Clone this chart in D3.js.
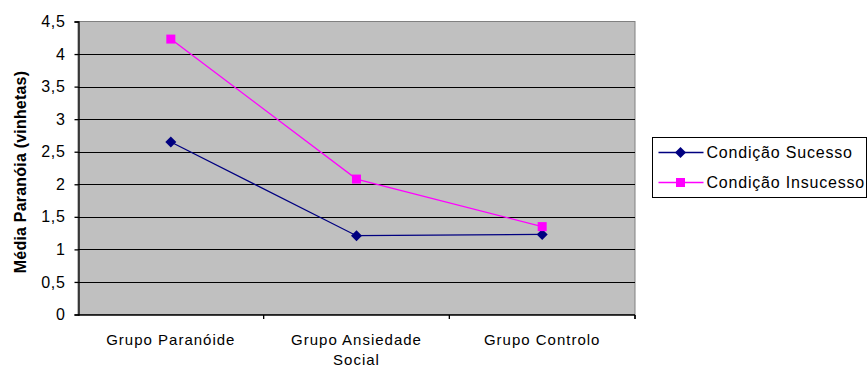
<!DOCTYPE html>
<html>
<head>
<meta charset="utf-8">
<script src="https://cdn.jsdelivr.net/npm/d3@7"></script>
<style>
  body { margin: 0; background: #fff; }
  text { font-family: "Liberation Sans", Arial, sans-serif; }
</style>
</head>
<body>
<div id="chart"></div>
<script>
// --- data ---
var categories = [["Grupo Paranóide"], ["Grupo Ansiedade", "Social"], ["Grupo Controlo"]];
var catKeys = ["Grupo Paranóide", "Grupo Ansiedade Social", "Grupo Controlo"];
var sucesso = [2.65, 1.21, 1.23];
var insucesso = [4.23, 2.08, 1.35];
var seriesNames = ["Condição Sucesso", "Condição Insucesso"];
var yTicks = [0, 0.5, 1, 1.5, 2, 2.5, 3, 3.5, 4, 4.5];

var W = 868, H = 371;
var pLeft = 78, pRight = 635, pTop = 21.5, pBottom = 314.5;

var svg = d3.select('#chart').append('svg')
    .attr('width', W).attr('height', H);

var x = d3.scaleBand().domain(catKeys).range([pLeft, pRight]);
var y = d3.scaleLinear().domain([0, 4.5]).range([pBottom, pTop]);

// plot background
svg.append('rect')
    .attr('x', pLeft).attr('y', pTop)
    .attr('width', pRight - pLeft).attr('height', pBottom - pTop)
    .attr('fill', '#c0c0c0')
    .attr('stroke', '#808080').attr('stroke-width', 1);

// gridlines
svg.append('g').selectAll('line')
    .data(yTicks.filter(function (d) { return d > 0 && d < 4.5; }))
    .enter().append('line')
    .attr('x1', pLeft).attr('x2', pRight)
    .attr('y1', function (d) { return Math.round(y(d)) + 0.5; })
    .attr('y2', function (d) { return Math.round(y(d)) + 0.5; })
    .attr('stroke', '#000').attr('stroke-width', 1);

// y axis
var yAxis = svg.append('g')
    .attr('transform', 'translate(' + (pLeft + 0.5) + ',0)')
    .call(d3.axisLeft(y).tickValues(yTicks).tickSize(4).tickPadding(9)
        .tickFormat(function (d) { return String(d).replace('.', ','); }));
yAxis.selectAll('path, line').attr('stroke', '#000').attr('stroke-width', 1.3);
yAxis.selectAll('text').attr('font-size', 16).attr('fill', '#000')
    .attr('letter-spacing', 0.7)
    .style('font-family', '"Liberation Sans", Arial, sans-serif');

// x axis
var xAxis = svg.append('g')
    .attr('transform', 'translate(0,' + (pBottom + 0.5) + ')');
xAxis.append('line')
    .attr('x1', pLeft).attr('x2', pRight)
    .attr('stroke', '#000').attr('stroke-width', 1.3);
xAxis.selectAll('.tk')
    .data(catKeys.concat(['end']))
    .enter().append('line')
    .attr('x1', function (d, i) { return i < 3 ? x(d) + x.bandwidth() : pRight; })
    .attr('x2', function (d, i) { return i < 3 ? x(d) + x.bandwidth() : pRight; })
    .attr('y1', 0).attr('y2', 4)
    .attr('stroke', '#000').attr('stroke-width', 1.3);

var labels = xAxis.selectAll('.lbl')
    .data(categories).enter().append('text')
    .attr('text-anchor', 'middle')
    .attr('font-size', 15)
    .attr('letter-spacing', 1)
    .attr('fill', '#000')
    .attr('x', function (d, i) { return x(catKeys[i]) + x.bandwidth() / 2; })
    .attr('y', 30);
labels.selectAll('tspan')
    .data(function (d) { return d; }).enter().append('tspan')
    .attr('x', function () { return d3.select(this.parentNode).attr('x'); })
    .attr('dy', function (d, i) { return i === 0 ? 0 : 20; })
    .text(function (d) { return d; });

// y title
svg.append('text')
    .attr('transform', 'translate(26,' + ((pTop + pBottom) / 2 + 4) + ') rotate(-90)')
    .attr('text-anchor', 'middle')
    .attr('font-size', 16)
    .attr('font-weight', 'bold')
    .attr('letter-spacing', 0.2)
    .text('Média Paranóia (vinhetas)');

// lines
var line = d3.line()
    .x(function (d, i) { return x(catKeys[i]) + x.bandwidth() / 2; })
    .y(function (d) { return y(d); });

svg.append('path').datum(insucesso)
    .attr('d', line).attr('fill', 'none')
    .attr('stroke', '#ff00ff').attr('stroke-width', 1.3);
svg.append('path').datum(sucesso)
    .attr('d', line).attr('fill', 'none')
    .attr('stroke', '#000080').attr('stroke-width', 1.3);

var diamond = 'M0,-5.5L5.5,0L0,5.5L-5.5,0Z';

svg.append('g').selectAll('path')
    .data(sucesso).enter().append('path')
    .attr('d', diamond)
    .attr('fill', '#000080')
    .attr('transform', function (d, i) {
        return 'translate(' + (x(catKeys[i]) + x.bandwidth() / 2) + ',' + y(d) + ')';
    });

svg.append('g').selectAll('rect')
    .data(insucesso).enter().append('rect')
    .attr('x', function (d, i) { return x(catKeys[i]) + x.bandwidth() / 2 - 4.5; })
    .attr('y', function (d) { return y(d) - 4.5; })
    .attr('width', 9).attr('height', 9)
    .attr('fill', '#ff00ff');

// legend
var lg = svg.append('g').attr('transform', 'translate(652.5,137.5)');
lg.append('rect')
    .attr('width', 214).attr('height', 60)
    .attr('fill', '#fff').attr('stroke', '#000').attr('stroke-width', 1);

var lgColors = ['#000080', '#ff00ff'];
seriesNames.forEach(function (name, i) {
    var ly = 15 + i * 30;
    lg.append('line')
        .attr('x1', 6).attr('x2', 51).attr('y1', ly).attr('y2', ly)
        .attr('stroke', lgColors[i]).attr('stroke-width', 1.3);
    if (i === 0) {
        lg.append('path').attr('d', diamond).attr('fill', lgColors[i])
            .attr('transform', 'translate(28,' + ly + ')');
    } else {
        lg.append('rect').attr('x', 23.5).attr('y', ly - 4.5)
            .attr('width', 9).attr('height', 9).attr('fill', lgColors[i]);
    }
    lg.append('text')
        .attr('x', 54).attr('y', ly + 5)
        .attr('font-size', 16)
        .attr('letter-spacing', 0.8)
        .text(name);
});
</script>
</body>
</html>
